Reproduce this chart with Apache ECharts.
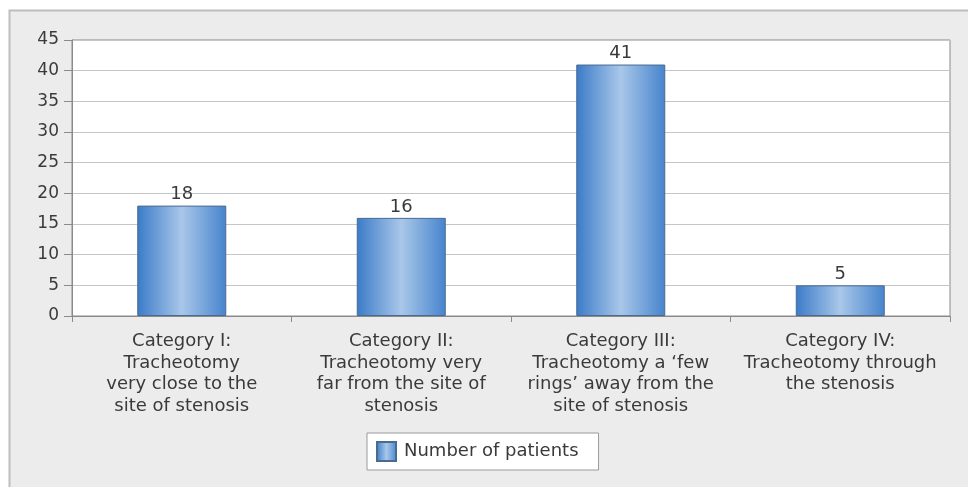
<!DOCTYPE html>
<html>
<head>
<meta charset="utf-8">
<script src="https://cdn.jsdelivr.net/npm/echarts@6/dist/echarts.min.js"></script>
<style>
  html, body { margin: 0; padding: 0; background: #fff; }
  #chart { width: 968px; height: 487px; }
</style>
</head>
<body>
<div id="chart"></div>
<script>
const categories = [
  'Category I:\nTracheotomy\nvery close to the\nsite of stenosis',
  'Category II:\nTracheotomy very\nfar from the site of\nstenosis',
  'Category III:\nTracheotomy a \u2018few\nrings\u2019 away from the\nsite of stenosis',
  'Category IV:\nTracheotomy through\nthe stenosis',
];
const patients = [18, 16, 41, 5];
const seriesName = 'Number of patients';

const myChart = echarts.init(document.getElementById('chart'));

// bar fill: dark edges, light middle
const barFill = {
  type: 'linear', x: 0, y: 0, x2: 1, y2: 0,
  colorStops: [
    { offset: 0, color: '#3b7bc8' },
    { offset: 0.5, color: '#a9c7e9' },
    { offset: 1, color: '#4684cd' },
  ],
};

const textStyle = {
  color: '#3a3a3a',
  fontSize: 18,
  fontFamily: 'DejaVu Sans, Arial, sans-serif',
};

const option = {
  animation: false,
  graphic: [
    {
      // outer gray frame
      type: 'rect',
      z: -10,
      shape: { x: 9.5, y: 10.5, width: 970, height: 490 },
      style: { fill: '#ececec', stroke: '#bdbdbd', lineWidth: 2 },
    },
  ],
  grid: {
    left: 72,
    right: 18,
    top: 40,
    bottom: 171,
    show: true,
    backgroundColor: '#fff',
    borderColor: '#8a8a8a',
    borderWidth: 1,
  },
  legend: {
    top: 433,
    left: 367,
    backgroundColor: '#fff',
    borderColor: '#9a9a9a',
    borderWidth: 1,
    padding: [8, 20, 8, 9],
    itemWidth: 19,
    itemHeight: 19,
    itemGap: 6,
    textStyle: Object.assign({}, textStyle, { padding: [0, 0, 0, 3] }),
    data: [{ name: seriesName, icon: 'rect' }],
  },
  xAxis: {
    type: 'category',
    data: categories,
    axisLine: { lineStyle: { color: '#8a8a8a' } },
    axisTick: { show: true, length: 6, lineStyle: { color: '#8a8a8a' } },
    axisLabel: Object.assign({}, textStyle, {
      interval: 0,
      margin: 15,
      lineHeight: 21.5,
    }),
  },
  yAxis: {
    type: 'value',
    min: 0,
    max: 45,
    interval: 5,
    axisLine: { show: true, lineStyle: { color: '#8a8a8a' } },
    axisTick: { show: true, length: 8, lineStyle: { color: '#8a8a8a' } },
    axisLabel: Object.assign({}, textStyle, { fontSize: 17, margin: 13 }),
    splitLine: { show: true, lineStyle: { color: '#c6c6c6' } },
  },
  series: [
    {
      name: seriesName,
      type: 'bar',
      data: patients,
      barWidth: 89,
      itemStyle: {
        color: barFill,
        borderColor: '#4a6a90',
        borderWidth: 1,
      },
      label: Object.assign({}, textStyle, {
        show: true,
        position: 'top',
        distance: 2,
      }),
    },
  ],
};

myChart.setOption(option);
</script>
</body>
</html>
